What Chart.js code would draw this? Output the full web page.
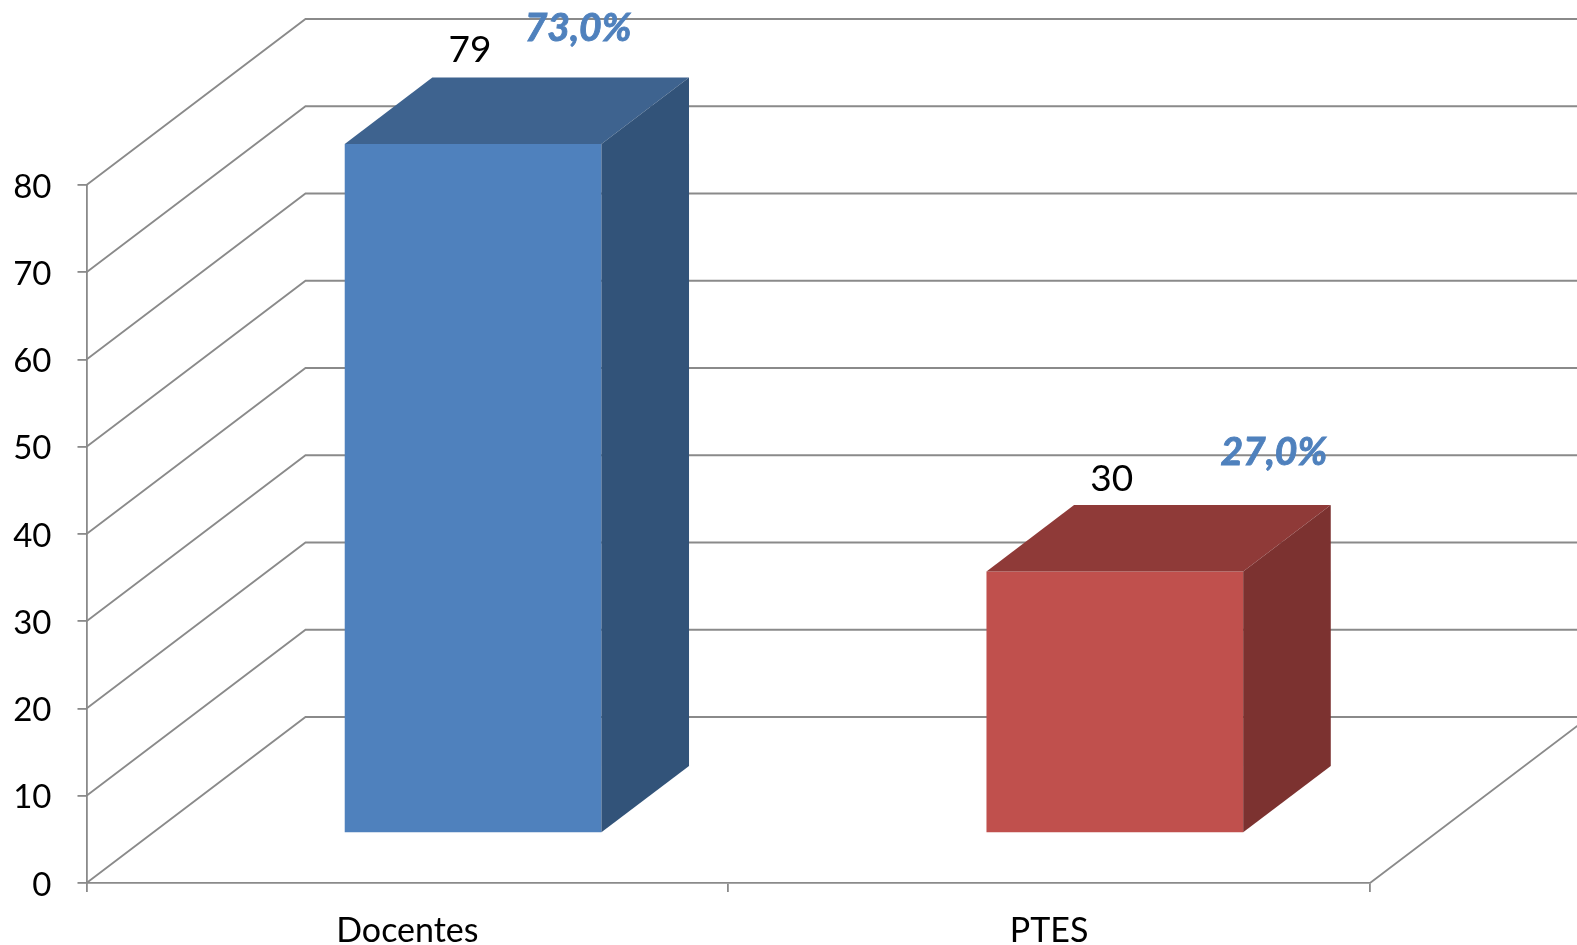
<!DOCTYPE html>
<html><head><meta charset="utf-8">
<style>html,body{margin:0;padding:0;background:#fff;overflow:hidden}#c{display:block}</style>
<script src="https://cdn.jsdelivr.net/npm/chart.js@4"></script>
</head><body><canvas id="c" width="1577" height="945" style="width:1577px;height:945px"></canvas>
<script>
const categories = ["Docentes", "PTES"];
const values = [79, 30];
const percentLabels = ["73,0%", "27,0%"];
const axisMax = 80, axisStep = 10;

const FONT = 'Lato, Carlito, sans-serif';
const GRID = '#8a8a8a';
const LINE = 1.8;
const frontColors = ['#4F81BD', '#C0504D'];
const topColors = ['#3E638F', '#8F3A38'];
const sideColors = ['#325379', '#7C3230'];
const wall = {dx: 219, dy: -166, barStart: 0.3, barDepth: 0.4};
const pctOffset = [[105, -116], [159, -119]];
const numOffset = [[-3, -94], [-3, -92]];

const depth3d = {
  id: 'depth3d',
  beforeDatasetsDraw(chart) {
    const {ctx, chartArea: a, scales: {y}} = chart;
    ctx.save();
    ctx.strokeStyle = GRID; ctx.lineWidth = LINE;
    ctx.beginPath();
    y.ticks.forEach(t => {
      const py = y.getPixelForValue(t.value);
      ctx.moveTo(a.left, py);
      ctx.lineTo(a.left + wall.dx, py + wall.dy);
      ctx.lineTo(chart.width + 2, py + wall.dy);
    });
    const y0 = y.getPixelForValue(0);
    ctx.moveTo(a.right, y0);
    ctx.lineTo(a.right + wall.dx, y0 + wall.dy);
    ctx.stroke();
    ctx.restore();
  },
  beforeDatasetDraw(chart) {
    chart.ctx.save();
    chart.ctx.translate(wall.dx * wall.barStart, wall.dy * wall.barStart);
  },
  afterDatasetDraw(chart, args) {
    const ctx = chart.ctx;
    ctx.restore();
    const ox = wall.dx * wall.barStart, oy = wall.dy * wall.barStart;
    const bx = wall.dx * wall.barDepth, by = wall.dy * wall.barDepth;
    args.meta.data.forEach((b, i) => {
      const half = b.width / 2;
      const l = b.x - half + ox, r = b.x + half + ox, t = b.y + oy, bot = b.base + oy;
      ctx.fillStyle = topColors[i];
      ctx.beginPath(); ctx.moveTo(l, t); ctx.lineTo(l + bx, t + by); ctx.lineTo(r + bx, t + by); ctx.lineTo(r, t); ctx.closePath(); ctx.fill();
      ctx.fillStyle = sideColors[i];
      ctx.beginPath(); ctx.moveTo(r, t); ctx.lineTo(r + bx, t + by); ctx.lineTo(r + bx, bot + by); ctx.lineTo(r, bot); ctx.closePath(); ctx.fill();
      const cx = b.x + ox;
      ctx.textAlign = 'center'; ctx.textBaseline = 'middle';
      ctx.fillStyle = '#000';
      ctx.font = '37px ' + FONT;
      ctx.fillText(String(values[i]), cx + numOffset[i][0], t + numOffset[i][1]);
      ctx.fillStyle = '#4F81BD';
      ctx.strokeStyle = '#4F81BD';
      ctx.lineWidth = 0.9;
      ctx.font = 'italic bold 39px ' + FONT;
      ctx.fillText(percentLabels[i], cx + pctOffset[i][0], t + pctOffset[i][1]);
      ctx.strokeText(percentLabels[i], cx + pctOffset[i][0], t + pctOffset[i][1]);
    });
  }
};

new Chart(document.getElementById('c'), {
  type: 'bar',
  data: {labels: categories, datasets: [{data: values, backgroundColor: frontColors, borderWidth: 0, barPercentage: 0.4, categoryPercentage: 1}]},
  options: {
    responsive: false, animation: false,
    layout: {padding: {top: 185, right: 207, left: 0, bottom: 0}},
    plugins: {legend: {display: false}, tooltip: {enabled: false}},
    scales: {
      x: {
        offset: true,
        afterFit(s) { s.height = 62; },
        grid: {drawOnChartArea: false, drawTicks: true, tickLength: 9, color: GRID, lineWidth: LINE},
        border: {color: GRID, width: LINE},
        ticks: {color: '#000', font: {family: FONT, size: 34}, padding: 19, maxRotation: 0}
      },
      y: {
        min: 0, max: axisMax,
        afterFit(s) {
          s.width = 86.5;
          if (!s.shiftedLabels) {
            s.shiftedLabels = true;
            const draw = s.drawLabels;
            s.drawLabels = function (area) {
              this.ctx.save();
              this.ctx.translate(0, 2);
              draw.call(this, area);
              this.ctx.restore();
            };
          }
        },
        grid: {drawOnChartArea: false, drawTicks: true, tickLength: 9, color: GRID, lineWidth: LINE},
        border: {color: GRID, width: LINE},
        ticks: {stepSize: axisStep, color: '#000', font: {family: FONT, size: 33}, padding: 26}
      }
    }
  },
  plugins: [depth3d]
});
</script></body></html>
